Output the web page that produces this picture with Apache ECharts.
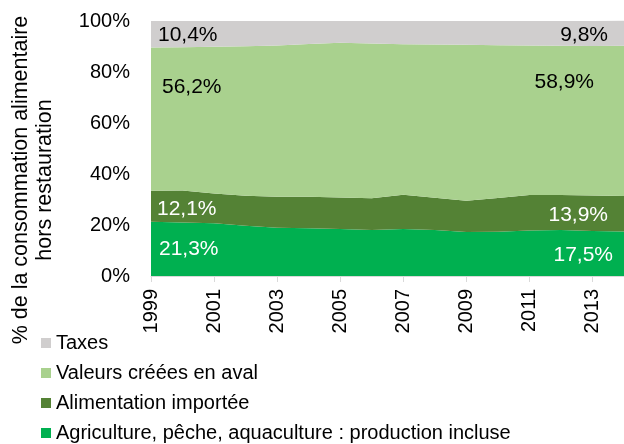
<!DOCTYPE html>
<html>
<head>
<meta charset="utf-8">
<script src="https://cdn.jsdelivr.net/npm/echarts@6/dist/echarts.min.js"></script>
<style>
  html, body { margin: 0; padding: 0; background: #fff; }
  #chart { width: 624px; height: 444px; }
</style>
</head>
<body>
<div id="chart"></div>
<script>
// années 1999 - 2014
var years = ['1999','2000','2001','2002','2003','2004','2005','2006','2007','2008','2009','2010','2011','2012','2013','2014'];

var agriculture = [21.3, 21.0, 20.7, 19.7, 18.9, 18.7, 18.4, 18.0, 18.4, 18.0, 17.3, 17.4, 17.8, 18.0, 17.6, 17.5];
var importee    = [12.1, 12.5, 11.7, 11.8, 12.2, 12.4, 12.4, 12.5, 13.5, 12.7, 12.2, 13.2, 14.0, 13.8, 14.0, 13.9];
var aval        = [56.2, 56.2, 57.5, 58.6, 59.3, 59.9, 60.7, 60.7, 59.0, 60.1, 61.2, 59.9, 58.6, 58.5, 58.6, 58.9];
var taxes       = [10.4, 10.3, 10.1,  9.9,  9.6,  9.0,  8.5,  8.8,  9.1,  9.2,  9.3,  9.5,  9.6,  9.7,  9.8,  9.8];

var yTicks = [0, 20, 40, 60, 80, 100];

var names = ['Agriculture, pêche, aquaculture : production incluse', 'Alimentation importée', 'Valeurs créées en aval', 'Taxes'];
var colors = ['#00b050', '#548235', '#a9d18e', '#d0cece'];

var myChart = echarts.init(document.getElementById('chart'));

function fmt(v) {
    return v.toFixed(1).replace('.', ',') + '%';
}

// étiquettes seulement sur le premier et le dernier point
function withLabels(arr, color, first, last) {
    return arr.map(function (v, i) {
        if (i === 0) {
            return { value: v, label: { show: true, position: 'right', distance: first[0], offset: [0, first[1]], color: color } };
        }
        if (i === arr.length - 1) {
            return { value: v, label: { show: true, position: 'left', distance: last[0], offset: [0, last[1]], color: color } };
        }
        return v;
    });
}

function areaSeries(name, color, data) {
    return {
        name: name,
        type: 'line',
        stack: 'total',
        clip: false,
        symbol: 'circle',
        symbolSize: 0,
        showSymbol: true,
        showAllSymbol: true,
        lineStyle: { width: 0 },
        areaStyle: { color: color, opacity: 1 },
        itemStyle: { color: color },
        label: {
            fontFamily: 'Liberation Sans, Arial',
            fontSize: 21,
            formatter: function (p) { return fmt(p.value); }
        },
        emphasis: { disabled: true },
        data: data
    };
}

var option = {
    animation: false,
    grid: {
        left: 151,
        right: -2,
        top: 21,
        bottom: 168
    },
    legend: {
        orient: 'vertical',
        left: 41,
        top: 333,
        padding: 0,
        itemWidth: 10,
        itemHeight: 10,
        itemGap: 10,
        icon: 'rect',
        selectedMode: false,
        textStyle: {
            fontFamily: 'Liberation Sans, Arial',
            fontSize: 20,
            lineHeight: 20,
            color: '#000'
        },
        data: ['Taxes', 'Valeurs créées en aval', 'Alimentation importée', 'Agriculture, pêche, aquaculture : production incluse']
    },
    xAxis: {
        type: 'category',
        boundaryGap: false,
        data: years,
        axisLine: { lineStyle: { color: '#d9d9d9' } },
        axisTick: { interval: 1, length: 6, lineStyle: { color: '#d9d9d9' } },
        axisLabel: {
            interval: 1,
            rotate: 90,
            margin: 13,
            fontFamily: 'Liberation Sans, Arial',
            fontSize: 20,
            color: '#000'
        },
        z: 10
    },
    yAxis: {
        type: 'value',
        min: 0,
        max: 100,
        interval: 20,
        axisLine: { show: false },
        axisTick: { show: false },
        splitLine: { show: false },
        axisLabel: {
            margin: 21,
            fontFamily: 'Liberation Sans, Arial',
            fontSize: 20,
            color: '#000',
            customValues: yTicks,
            formatter: '{value}%'
        }
    },
    graphic: [{
        type: 'text',
        x: 33,
        y: 180,
        rotation: Math.PI / 2,
        style: {
            text: '% de la consommation alimentaire\nhors restauration',
            fontFamily: 'Liberation Sans, Arial',
            fontSize: 21.5,
            lineHeight: 24,
            fill: '#000',
            align: 'center',
            verticalAlign: 'middle'
        }
    }],
    series: [
        areaSeries(names[0], colors[0], withLabels(agriculture, '#fff', [8, 28], [11, 24])),
        areaSeries(names[1], colors[1], withLabels(importee, '#fff', [6, 18], [16, 19])),
        areaSeries(names[2], colors[2], withLabels(aval, '#000', [11, 40], [30, 36])),
        areaSeries(names[3], colors[3], withLabels(taxes, '#000', [7, 14], [16, 14]))
    ]
};

myChart.setOption(option);
</script>
</body>
</html>
